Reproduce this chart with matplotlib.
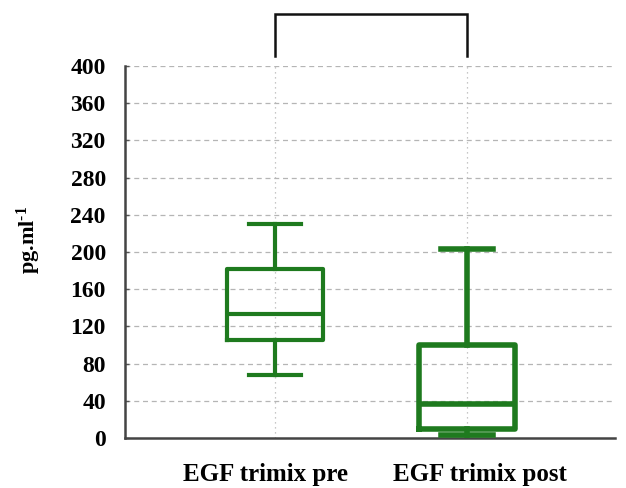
import matplotlib
matplotlib.use("Agg")
import matplotlib.pyplot as plt
import matplotlib.transforms as mtransforms

categories = ["EGF trimix pre", "EGF trimix post"]
whisker_low = [68, 3]
q1 = [105, 10]
median = [133, 37]
q3 = [182, 100]
whisker_high = [230, 203]
yticks = [0, 40, 80, 120, 160, 200, 240, 280, 320, 360, 400]

plt.rcParams['font.family'] = ['Liberation Serif', 'DejaVu Serif']
plt.rcParams['font.weight'] = 'bold'
plt.rcParams['mathtext.fontset'] = 'custom'
plt.rcParams['mathtext.rm'] = 'Liberation Serif:bold'
plt.rcParams['mathtext.bf'] = 'Liberation Serif:bold'
plt.rcParams['mathtext.default'] = 'rm'

fig = plt.figure(figsize=(6.26, 4.88), dpi=100)
ax = fig.add_axes([0.2, 0.1025, 0.782, 0.7625])

green = '#1e7a1e'
stats = []
for i, c in enumerate(categories):
    stats.append(dict(label=c, whislo=whisker_low[i], q1=q1[i], med=median[i],
                      q3=q3[i], whishi=whisker_high[i], fliers=[]))

positions = [1, 2]
lws = [3.0, 4.0]
for i in range(2):
    ax.bxp([stats[i]], positions=[positions[i]], widths=0.5, showfliers=False,
           patch_artist=False,
           boxprops=dict(color=green, linewidth=lws[i]),
           medianprops=dict(color=green, linewidth=lws[i]),
           whiskerprops=dict(color=green, linewidth=lws[i]),
           capprops=dict(color=green, linewidth=lws[i]),
           capwidths=0.27, zorder=3)

ax.set_xlim(0.22, 2.77)
ax.set_ylim(0, 400)
ax.set_yticks(yticks)
ax.set_xticks(positions)
ax.set_xticklabels(categories, fontsize=18, fontweight='bold')
ax.tick_params(axis='y', labelsize=17, length=3, direction='in', width=1, color='#555555', pad=14)
ax.tick_params(axis='x', length=0, pad=18)
for lab in ax.get_yticklabels():
    lab.set_fontweight('bold')
# slight horizontal offsets of the category labels as in the reference
shifts = [-9, 13]
for lab, dx in zip(ax.get_xticklabels(), shifts):
    lab.set_transform(lab.get_transform() +
                      mtransforms.ScaledTranslation(dx / 100, 0, fig.dpi_scale_trans))

for y in yticks[1:]:
    ax.axhline(y, color='#b5b5b5', linestyle=(0, (4, 3)), linewidth=0.9, zorder=1)
for x in positions:
    ax.plot([x, x], [0, 400], color='#b5b5b5', linestyle=(0, (1, 3)), linewidth=0.9, zorder=1)

for s in ['top', 'right']:
    ax.spines[s].set_visible(False)
for s in ['left', 'bottom']:
    ax.spines[s].set_color('#444444')
    ax.spines[s].set_linewidth(1.8)

ax.set_ylabel('pg.ml$^{\\text{-1}}$', fontsize=16, fontweight='bold')
ax.yaxis.set_label_coords(-0.167, 0.532)

# significance bracket
ax.plot([1, 1, 2, 2], [411, 456, 456, 411], color='#111111', linewidth=1.8,
        clip_on=False, solid_joinstyle='miter')

fig.savefig('out.png', dpi=100)
